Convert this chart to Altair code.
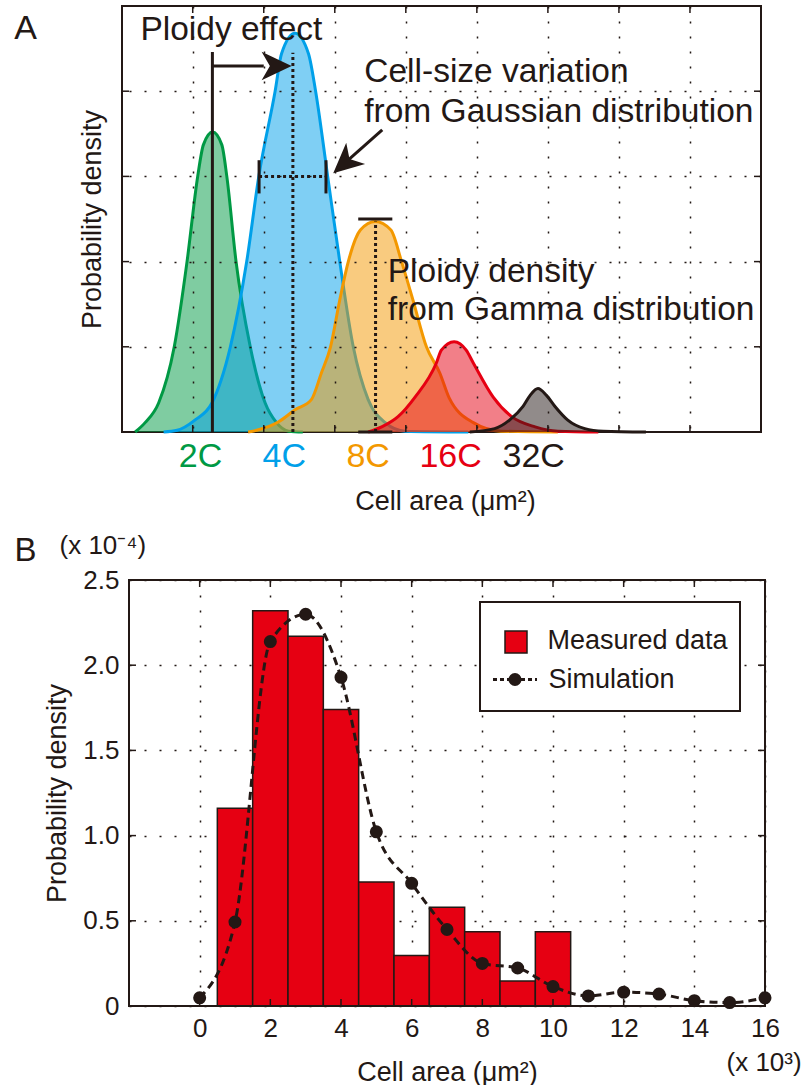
import altair as alt
import pandas as pd

FONT = "Liberation Sans, Arial, Helvetica, sans-serif"
INK = "#231815"

# ---------------- Panel A: cell-area densities of each ploidy class ----------------
ploidy_labels = ["2C", "4C", "8C", "16C", "32C"]
ploidy_colors = ["#009944", "#00a0e9", "#f39800", "#e60012", "#231815"]
ploidy_label_x = [1.11, 2.29, 3.47, 4.63, 5.80]

curve_2c_x = [0.19, 0.33, 0.52, 0.74, 0.92, 1.07, 1.15, 1.28, 1.41, 1.48, 1.61, 1.81, 2.02, 2.18, 2.35, 2.55]
curve_2c_y = [0.00, 0.11, 0.34, 1.00, 2.00, 3.00, 3.37, 3.52, 3.37, 3.00, 2.00, 1.00, 0.34, 0.11, 0.01, 0.00]

curve_4c_x = [0.59, 0.78, 1.03, 1.27, 1.53, 1.76, 1.93, 2.16, 2.25, 2.44, 2.63, 2.73, 2.90, 3.07, 3.26, 3.47, 3.71, 3.99, 4.88]
curve_4c_y = [0.00, 0.02, 0.14, 0.34, 1.00, 2.00, 3.00, 4.00, 4.44, 4.68, 4.44, 4.00, 3.00, 2.00, 1.00, 0.38, 0.11, 0.01, 0.00]

curve_8c_x = [1.78, 1.90, 2.21, 2.44, 2.67, 2.81, 2.94, 3.07, 3.19, 3.36, 3.57, 3.79, 3.94, 4.10, 4.29, 4.48, 4.61, 4.95, 5.34, 6.14]
curve_8c_y = [0.00, 0.02, 0.12, 0.26, 0.38, 0.69, 1.00, 1.55, 2.00, 2.37, 2.47, 2.37, 2.00, 1.55, 1.00, 0.69, 0.40, 0.11, 0.01, 0.00]

curve_16c_x = [3.47, 3.66, 3.89, 4.13, 4.43, 4.50, 4.68, 4.85, 4.95, 5.23, 5.49, 5.82, 6.14, 6.71]
curve_16c_y = [0.00, 0.06, 0.18, 0.41, 0.81, 0.96, 1.06, 0.96, 0.81, 0.41, 0.18, 0.06, 0.01, 0.00]

curve_32c_x = [4.90, 5.25, 5.46, 5.65, 5.75, 5.86, 5.98, 6.10, 6.28, 6.52, 6.78, 7.38]
curve_32c_y = [0.00, 0.04, 0.14, 0.30, 0.43, 0.51, 0.43, 0.30, 0.14, 0.04, 0.01, 0.00]

# annotation segments (solid): 2C marker, arrow shaft, width caps, peak bars, pointer shaft
solid_x0 = [1.277, 1.277, 1.934, 2.876, 3.33, 3.33, 3.668]
solid_y0 = [0.00, 4.296, 2.80, 2.80, 2.50, 0.00, 3.545]
solid_x1 = [1.277, 2.00, 1.934, 2.876, 3.81, 3.81, 3.136]
solid_y1 = [4.46, 4.296, 3.19, 3.19, 2.50, 0.00, 3.153]

# annotation segments (dotted): 4C mean, 4C spread, 8C mean
dotted_x0 = [2.41, 1.934, 3.574]
dotted_y0 = [0.00, 3.00, 0.00]
dotted_x1 = [2.41, 2.876, 3.574]
dotted_y1 = [4.45, 3.00, 2.47]

# arrow heads
head_x = [2.181, 3.136]
head_y = [4.296, 3.153]
head_angle = [0, 138.5]

note_text = ["Ploidy effect", "Cell-size variation", "from Gaussian distribution",
             "Ploidy density", "from Gamma distribution"]
note_x = [0.264, 3.415, 3.415, 3.745, 3.745]
note_y = [4.72, 4.225, 3.756, 1.878, 1.432]

grid_a_x = [1, 2, 3, 4, 5, 6, 7, 8]
grid_a_y = [1, 2, 3, 4]

# ---------------- Panel B: measured histogram vs simulation ----------------
bin_center = [1, 2, 3, 4, 5, 6, 7, 8, 9, 10]
measured = [1.16, 2.32, 2.17, 1.74, 0.727, 0.296, 0.58, 0.436, 0.147, 0.436]

sim_x = [0, 1, 2, 3, 4, 5, 6, 7, 8, 9, 10, 11, 12, 13, 14, 15, 16]
sim_y = [0.048, 0.493, 2.139, 2.299, 1.929, 1.022, 0.720, 0.449, 0.250, 0.223,
         0.114, 0.059, 0.081, 0.070, 0.031, 0.020, 0.048]

b_xtick_values = [0, 2, 4, 6, 8, 10, 12, 14, 16]
b_ytick_values = [0, 0.5, 1.0, 1.5, 2.0, 2.5]

A_W, A_H = 632, 426
B_W, B_H = 636, 426
ONE = pd.DataFrame({"k": [0]})

# ---------------- build panel A ----------------
a_xs = alt.Scale(domain=[0.103, 9], nice=False, zero=False)
a_ys = alt.Scale(domain=[0, 5], nice=False, zero=False)
grid_style = dict(grid=True, gridDash=[2, 13], gridColor=INK, gridWidth=1.5,
                  ticks=False, domain=False, labels=False)
a_xaxis = alt.Axis(values=grid_a_x, title="Cell area (μm²)", titleFont=FONT, titleFontSize=27,
                   titleFontWeight="normal", titleColor=INK, titlePadding=56, zindex=1, **grid_style)
a_yaxis = alt.Axis(values=grid_a_y, title="Probability density", titleFont=FONT, titleFontSize=27,
                   titleFontWeight="normal", titleColor=INK, titlePadding=23, zindex=1, **grid_style)


def ax(field):
    return alt.X(f"{field}:Q", scale=a_xs, axis=a_xaxis)


def ay(field):
    return alt.Y(f"{field}:Q", scale=a_ys, axis=a_yaxis)


a_layers = [
    alt.Chart(ONE).mark_rect(fillOpacity=0, stroke=INK, strokeWidth=2).encode(
        x=alt.value(-7), x2=alt.value(A_W), y=alt.value(0), y2=alt.value(A_H))
]

curves = [(curve_2c_x, curve_2c_y), (curve_4c_x, curve_4c_y), (curve_8c_x, curve_8c_y),
          (curve_16c_x, curve_16c_y), (curve_32c_x, curve_32c_y)]
for (cx, cy), col in zip(curves, ploidy_colors):
    d = pd.DataFrame({"x": cx, "y": cy})
    a_layers.append(alt.Chart(d).mark_area(color=col, opacity=0.5, interpolate="monotone")
                    .encode(x=ax("x"), y=ay("y")))
    a_layers.append(alt.Chart(d).mark_line(color=col, strokeWidth=3, interpolate="monotone")
                    .encode(x=ax("x"), y=ay("y")))

solid_df = pd.DataFrame({"x0": solid_x0, "y0": solid_y0, "x1": solid_x1, "y1": solid_y1})
dotted_df = pd.DataFrame({"x0": dotted_x0, "y0": dotted_y0, "x1": dotted_x1, "y1": dotted_y1})
a_layers.append(alt.Chart(dotted_df).mark_rule(color=INK, strokeWidth=3, strokeDash=[3, 3])
                .encode(x=ax("x0"), y=ay("y0"), x2="x1", y2="y1"))
a_layers.append(alt.Chart(solid_df).mark_rule(color=INK, strokeWidth=3)
                .encode(x=ax("x0"), y=ay("y0"), x2="x1", y2="y1"))

head_df = pd.DataFrame({"x": head_x, "y": head_y, "a": head_angle})
a_layers.append(alt.Chart(head_df).mark_point(shape="M1,0L-1,-0.95L-0.45,0L-1,0.95Z", filled=True,
                                              size=900, color=INK, opacity=1)
                .encode(x=ax("x"), y=ay("y"), angle=alt.Angle("a:Q", scale=None)))

note_df = pd.DataFrame({"x": note_x, "y": note_y, "t": note_text})
a_layers.append(alt.Chart(note_df).mark_text(align="left", baseline="middle", font=FONT,
                                             fontSize=33.5, color=INK)
                .encode(x=ax("x"), y=ay("y"), text="t:N"))

lab_df = pd.DataFrame({"x": ploidy_label_x, "label": ploidy_labels})
a_layers.append(alt.Chart(lab_df).mark_text(align="center", baseline="middle", font=FONT, fontSize=34)
                .encode(x=ax("x"), y=alt.value(451), text="label:N",
                        color=alt.Color("label:N", scale=alt.Scale(domain=ploidy_labels, range=ploidy_colors),
                                        legend=None)))

gx = pd.DataFrame({"x": grid_a_x})
gy = pd.DataFrame({"y": grid_a_y})
tick_style = dict(color=INK, strokeWidth=1.5)
a_layers += [
    alt.Chart(gx).mark_rule(**tick_style).encode(x=ax("x"), y=alt.value(0), y2=alt.value(7)),
    alt.Chart(gx).mark_rule(**tick_style).encode(x=ax("x"), y=alt.value(A_H - 7), y2=alt.value(A_H)),
    alt.Chart(gy).mark_rule(**tick_style).encode(y=ay("y"), x=alt.value(-7), x2=alt.value(0)),
    alt.Chart(gy).mark_rule(**tick_style).encode(y=ay("y"), x=alt.value(A_W - 7), x2=alt.value(A_W)),
    alt.Chart(ONE).mark_text(font=FONT, fontSize=34, color=INK, align="center", baseline="middle")
    .encode(x=alt.value(-103.5), y=alt.value(23), text=alt.value("A")),
]

chart_a = alt.layer(*a_layers).properties(width=A_W, height=A_H)

# ---------------- build panel B ----------------
b_xs = alt.Scale(domain=[-2, 16], nice=False, zero=False)
b_ys = alt.Scale(domain=[0, 2.5], nice=False, zero=False)
b_grid = dict(grid=True, gridDash=[2, 13], gridColor=INK, gridWidth=1.5, ticks=False, domain=False)
b_xaxis = alt.Axis(values=b_xtick_values, labelFont=FONT, labelFontSize=26, labelColor=INK,
                   labelPadding=9, labelFlush=False, labelOverlap=False,
                   title="Cell area (μm²)", titleFont=FONT, titleFontSize=27, titleFontWeight="normal",
                   titleColor=INK, titlePadding=18, **b_grid)
b_yaxis = alt.Axis(values=b_ytick_values, labelFont=FONT, labelFontSize=26, labelColor=INK,
                   labelPadding=10, labelOverlap=False,
                   labelExpr="datum.value == 0 ? '0' : format(datum.value, '.1f')",
                   title="Probability density", titleFont=FONT, titleFontSize=27, titleFontWeight="normal",
                   titleColor=INK, titlePadding=11, **b_grid)


def bx(field):
    return alt.X(f"{field}:Q", scale=b_xs, axis=b_xaxis)


def by(field):
    return alt.Y(f"{field}:Q", scale=b_ys, axis=b_yaxis)


hist_df = pd.DataFrame({"start": [c - 0.5 for c in bin_center],
                        "end": [c + 0.5 for c in bin_center],
                        "h": measured,
                        "base": [0.0] * len(bin_center)})
sim_df = pd.DataFrame({"x": sim_x, "y": sim_y})
bxt = pd.DataFrame({"x": b_xtick_values[:-1]})
byt = pd.DataFrame({"y": b_ytick_values[1:-1]})

b_layers = [
    alt.Chart(hist_df).mark_rect(color="#e60012", stroke=INK, strokeWidth=1.5)
    .encode(x=bx("start"), x2="end", y=by("h"), y2="base"),
    alt.Chart(sim_df).mark_line(color=INK, strokeWidth=3, strokeDash=[8, 5], interpolate="monotone")
    .encode(x=bx("x"), y=by("y")),
    alt.Chart(sim_df).mark_circle(size=170, color=INK, opacity=1).encode(x=bx("x"), y=by("y")),
    alt.Chart(ONE).mark_rect(fillOpacity=0, stroke=INK, strokeWidth=2).encode(
        x=alt.value(0), x2=alt.value(B_W), y=alt.value(0), y2=alt.value(B_H)),
    alt.Chart(bxt).mark_rule(**tick_style).encode(x=bx("x"), y=alt.value(0), y2=alt.value(7)),
    alt.Chart(bxt).mark_rule(**tick_style).encode(x=bx("x"), y=alt.value(B_H - 7), y2=alt.value(B_H)),
    alt.Chart(byt).mark_rule(**tick_style).encode(y=by("y"), x=alt.value(0), x2=alt.value(7)),
    alt.Chart(byt).mark_rule(**tick_style).encode(y=by("y"), x=alt.value(B_W - 7), x2=alt.value(B_W)),
    # legend
    alt.Chart(ONE).mark_rect(fill="white", stroke=INK, strokeWidth=2).encode(
        x=alt.value(351), x2=alt.value(611), y=alt.value(22), y2=alt.value(131)),
    alt.Chart(ONE).mark_square(size=484, color="#e60012", stroke=INK, strokeWidth=1.5, opacity=1)
    .encode(x=alt.value(387), y=alt.value(62)),
    alt.Chart(ONE).mark_rule(color=INK, strokeWidth=3, strokeDash=[4, 3]).encode(
        x=alt.value(364), x2=alt.value(408), y=alt.value(99.5)),
    alt.Chart(ONE).mark_circle(size=170, color=INK, opacity=1).encode(x=alt.value(386), y=alt.value(99.5)),
    alt.Chart(ONE).mark_text(font=FONT, fontSize=27, color=INK, align="left", baseline="middle")
    .encode(x=alt.value(418.5), y=alt.value(61), text=alt.value("Measured data")),
    alt.Chart(ONE).mark_text(font=FONT, fontSize=27, color=INK, align="left", baseline="middle")
    .encode(x=alt.value(419.5), y=alt.value(99.5), text=alt.value("Simulation")),
    # panel letter and scale multipliers
    alt.Chart(ONE).mark_text(font=FONT, fontSize=33, color=INK, align="center", baseline="middle")
    .encode(x=alt.value(-103.5), y=alt.value(-29.5), text=alt.value("B")),
    alt.Chart(ONE).mark_text(font=FONT, fontSize=26, color=INK, align="left", baseline="middle")
    .encode(x=alt.value(-69.5), y=alt.value(-34.5), text=alt.value("(x 10⁻⁴)")),
    alt.Chart(ONE).mark_text(font=FONT, fontSize=26, color=INK, align="left", baseline="middle")
    .encode(x=alt.value(597.5), y=alt.value(482.5), text=alt.value("(x 10³)")),
]

chart_b = alt.layer(*b_layers).properties(width=B_W, height=B_H)

chart = (
    alt.vconcat(chart_a, chart_b, spacing=18)
    .properties(padding={"left": 14, "top": 5, "right": 3, "bottom": 2})
    .configure_view(strokeWidth=0)
)

chart.save("out.html", embed_options={"renderer": "svg", "actions": False})
